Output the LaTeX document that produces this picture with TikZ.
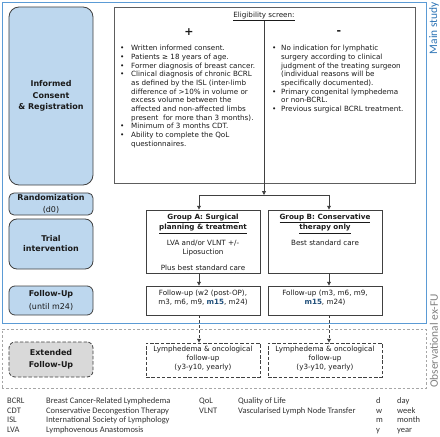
\documentclass[tikz,border=0pt]{standalone}
\usepackage{fontspec}
\setmainfont{DejaVu Sans}
\newfontfamily\calfont{Carlito}
\usetikzlibrary{arrows.meta,calc}
\definecolor{framebl}{HTML}{5B9BD5}
\definecolor{boxfill}{HTML}{BDD7EE}
\definecolor{boxline}{HTML}{404040}
\definecolor{txt}{HTML}{1A1A1A}
\definecolor{mblue}{HTML}{1F4E79}
\definecolor{grayfill}{HTML}{D9D9D9}
\definecolor{obsgray}{HTML}{A6A6A6}
\definecolor{labblue}{HTML}{2E75B6}
\definecolor{labgray}{HTML}{7F7F7F}
\definecolor{legtxt}{HTML}{333333}
\newcommand\fsz[2]{\fontsize{#1}{#2}\selectfont}
\newcommand\linesc[1]{\begin{tabular}[t]{@{}c@{}}#1\end{tabular}}
\newcommand\linesl[1]{\begin{tabular}[t]{@{}l@{}}#1\end{tabular}}
\newcommand\bul{\makebox[11bp][l]{\textbullet}}
\tikzset{
  phase/.style={draw=boxline, fill=boxfill, line width=0.8bp, rounded corners=#1, inner sep=0pt, align=center, text=txt},
  phase/.default=6bp,
  cbox/.style={draw=boxline, line width=0.8bp, inner sep=0pt},
  dbox/.style={cbox, dash pattern=on 3.5bp off 1.8bp},
  body/.style={inner sep=0pt, text=txt, font=\fsz{7.2}{8.7}},
  legend/.style={inner sep=0pt, text=legtxt, anchor=base west, font=\calfont\fsz{8.5}{9.6}},
  conn/.style={draw=boxline, line width=0.8bp},
  arr/.style={conn, -{Triangle[length=3.8bp,width=3.8bp]}},
}
\begin{document}
\begin{tikzpicture}[x=1bp,y=-1bp]
\useasboundingbox (0,0) rectangle (440,437);
% frames
\node[draw=framebl, line width=0.9bp, minimum width=424bp, minimum height=321bp, inner sep=0pt] (mainframe) at (214,162.5) {};
\node[draw=obsgray, line width=0.7bp, dash pattern=on 2.5bp off 2bp, minimum width=424bp, minimum height=59bp, inner sep=0pt] (obsframe) at (214,358.5) {};
\node[rotate=90, anchor=east, inner sep=0pt, text=labblue, font=\calfont\fsz{11.5}{12}] (mslab) at (434,2) {Main study};
\node[rotate=90, anchor=west, inner sep=0pt, text=labgray, font=\calfont\fsz{11.5}{12}] (obslab) at (434,388) {Observational ex-FU};
% phase boxes
\node[phase=10bp, minimum width=84bp, minimum height=178bp, font=\bfseries\fsz{8}{11.5}] (ic) at (51,96) {Informed\\Consent\\\& Registration};
\node[phase=5bp, minimum width=84bp, minimum height=22bp, font=\fsz{8}{12}] (rnd) at (51,204) {\textbf{Randomization}\\(d0)};
\node[phase=8bp, minimum width=84bp, minimum height=50bp, font=\bfseries\fsz{8}{10}] (trial) at (51,244) {Trial\\intervention};
\node[phase=6bp, minimum width=84bp, minimum height=29bp, font=\fsz{8}{13}] (fu) at (51,300.5) {\textbf{Follow-Up}\\(until m24)};
\node[phase=6bp, fill=grayfill, dash pattern=on 3.5bp off 1.8bp, minimum width=84bp, minimum height=35bp, font=\bfseries\fsz{8}{12}] (ext) at (51,359.5) {Extended\\Follow-Up};
% content boxes
\node[cbox, draw=boxline!85, minimum width=301bp, minimum height=176bp] (elig) at (264.5,95) {};
\node[cbox, minimum width=114bp, minimum height=63bp] (gA) at (203,241.5) {};
\node[cbox, minimum width=114bp, minimum height=63bp] (gB) at (325,241.5) {};
\node[cbox, minimum width=114bp, minimum height=29bp] (fuA) at (203,300.5) {};
\node[cbox, minimum width=114bp, minimum height=29bp] (fuB) at (325,300.5) {};
\node[dbox, minimum width=114bp, minimum height=34bp] (exA) at (203,360) {};
\node[dbox, minimum width=114bp, minimum height=34bp] (exB) at (325,360) {};
% eligibility texts
\node[body, anchor=base] (eltitle) at (264,17.6) {\underline{Eligibility screen:}};
\node[inner sep=0pt, anchor=base, text=txt, font=\bfseries\fsz{11}{11}] (plus) at (189,36) {+};
\node[inner sep=0pt, anchor=base, text=txt, font=\bfseries\fsz{11}{11}] (minus) at (339,35) {-};
\node[body, anchor=base west] (incl) at (120,50.9) {\begin{tabular}[t]{@{}l@{}l@{}}
\bul & Written informed consent.\\
\bul & Patients ≥ 18 years of age.\\
\bul & Former diagnosis of breast cancer.\\
\bul & Clinical diagnosis of chronic BCRL\\
 & as defined by the ISL (inter-limb\\
 & difference of >10\% in volume or\\
 & excess volume between the\\
 & affected and non-affected limbs\\
 & present\ \ for more than 3 months).\\
\bul & Minimum of 3 months CDT.\\
\bul & Ability to complete the QoL\\
 & questionnaires.
\end{tabular}};
\node[body, anchor=base west] (excl) at (272,50.9) {\begin{tabular}[t]{@{}l@{}l@{}}
\makebox[9bp][l]{\textbullet} & No indication for lymphatic\\
 & surgery according to clinical\\
 & judgment of the treating surgeon\\
 & (individual reasons will be\\
 & specifically documented).\\
\makebox[9bp][l]{\textbullet} & Primary congenital lymphedema\\
 & or non-BCRL.\\
\makebox[9bp][l]{\textbullet} & Previous surgical BCRL treatment.
\end{tabular}};
% group texts
\node[body, anchor=base, font=\bfseries\fsz{7.2}{10}] (gAt) at (203,219.3) {\linesc{\underline{Group A: Surgical}\\\underline{planning \& treatment}}};
\node[body, anchor=base, font=\fsz{7.2}{9}] (gAl) at (203,245.3) {\linesc{LVA and/or VLNT +/-\\Liposuction}};
\node[body, anchor=base] (gAp) at (203,270.3) {Plus best standard care};
\node[body, anchor=base, font=\bfseries\fsz{7.2}{10}] (gBt) at (325,219.3) {\linesc{\underline{Group B: Conservative}\\\underline{therapy only}}};
\node[body, anchor=base] (gBl) at (325,245.3) {Best standard care};
\node[body, anchor=base, font=\fsz{7.2}{8.5}] (fuAt) at (203,295.9) {\linesc{Follow-up (w2 (post-OP),\\m3, m6, m9, \textbf{\color{mblue}m15}, m24)}};
\node[body, anchor=base, font=\fsz{7.2}{8.5}] (fuBt) at (325,295.9) {\linesc{Follow-up (m3, m6, m9,\\\textbf{\color{mblue}m15}, m24)}};
\node[body, anchor=base, font=\fsz{7.2}{9}] (exAt) at (203,351.6) {\linesc{Lymphedema \& oncological\\follow-up\\(y3-y10, yearly)}};
\node[body, anchor=base, font=\fsz{7.2}{9}] (exBt) at (325,351.6) {\linesc{Lymphedema \& oncological\\follow-up\\(y3-y10, yearly)}};
% connectors
\coordinate (top) at (264,21);
\coordinate (jM) at (264,195);
\coordinate (jA) at (199,195);
\coordinate (jB) at (329,195);
\draw[arr] (top) -- (jM);
\draw[conn] (jA) -- (jB);
\draw[arr] (jA) -- (jA |- gA.north);
\draw[arr] (jB) -- (jB |- gB.north);
\draw[arr] (jA |- gA.south) -- (jA |- fuA.north);
\draw[arr] (jB |- gB.south) -- (jB |- fuB.north);
\draw[arr, dash pattern=on 3bp off 2bp] (jA |- fuA.south) -- (jA |- exA.north);
\draw[arr, dash pattern=on 3bp off 2bp] (jB |- fuB.south) -- (jB |- exB.north);
% legend
\node[legend] (lg1) at (7,403.7) {\linesl{BCRL\\CDT\\ISL\\LVA}};
\node[legend] (lg2) at (46,403.7) {\linesl{Breast Cancer-Related Lymphedema\\Conservative Decongestion Therapy\\International Society of Lymphology\\Lymphovenous Anastomosis}};
\node[legend] (lg3) at (199,403.7) {\linesl{QoL\\VLNT}};
\node[legend] (lg4) at (238,403.7) {\linesl{Quality of Life\\Vascularised Lymph Node Transfer}};
\node[legend] (lg5) at (376,403.7) {\linesl{d\\w\\m\\y}};
\node[legend] (lg6) at (397,403.7) {\linesl{day\\week\\month\\year}};
\end{tikzpicture}
\end{document}
